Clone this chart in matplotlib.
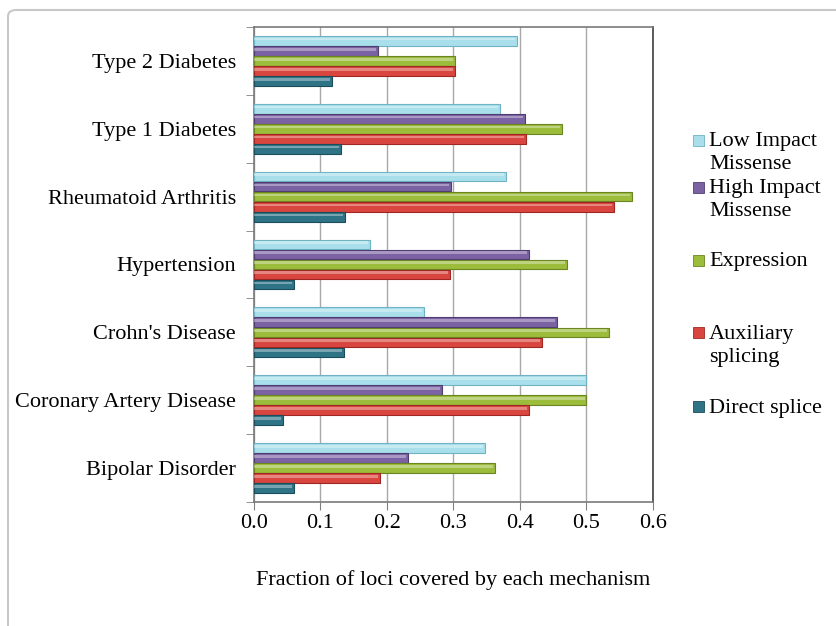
import matplotlib
matplotlib.use("Agg")
import matplotlib.pyplot as plt
import numpy as np
from matplotlib.patches import FancyBboxPatch, Rectangle

# diseases, bottom to top as they sit on the y axis
diseases = ["Bipolar Disorder", "Coronary Artery Disease", "Crohn's Disease",
            "Hypertension", "Rheumatoid Arthritis", "Type 1 Diabetes",
            "Type 2 Diabetes"]

# fraction of loci covered by each mechanism
low_impact = [0.347, 0.500, 0.255, 0.175, 0.379, 0.370, 0.396]
high_impact = [0.231, 0.282, 0.455, 0.413, 0.296, 0.407, 0.186]
expression = [0.362, 0.500, 0.534, 0.470, 0.569, 0.463, 0.303]
auxiliary = [0.189, 0.414, 0.433, 0.295, 0.541, 0.409, 0.303]
direct = [0.060, 0.044, 0.135, 0.060, 0.137, 0.131, 0.118]

series = [
    ("Low Impact\nMissense", low_impact, "#a9dfea", "#6fb3c4"),
    ("High Impact\nMissense", high_impact, "#7b62a3", "#4f3d72"),
    ("Expression", expression, "#9cbc3c", "#6a8522"),
    ("Auxiliary\nsplicing", auxiliary, "#d9463f", "#9e2723"),
    ("Direct splice", direct, "#2f7486", "#1b4d5b"),
]

plt.rcParams["font.family"] = ["Liberation Serif", "DejaVu Serif"]
fs = 16

fig = plt.figure(figsize=(8.37, 6.26), dpi=100)
ax = fig.add_axes([254 / 837, 1 - 502 / 626, 399 / 837, 475 / 626])

# rounded frame around the whole chart
frame = FancyBboxPatch((8 / 837, -0.05), 1.05, 1 - 10 / 626 + 0.05,
                       boxstyle="round,pad=0,rounding_size=0.01",
                       transform=fig.transFigure, fill=False,
                       edgecolor="#c8c8c8", linewidth=1.5, clip_on=False)
fig.patches.append(frame)

y = np.arange(len(diseases))
pitch = 0.148
h = 0.142
for i, (name, vals, col, edge) in enumerate(series):
    pos = y + (2 - i) * pitch
    ax.barh(pos, vals, height=h, color=col, edgecolor=edge, linewidth=0.8,
            zorder=3)
    # glossy highlight along the top of each bar
    ax.barh(pos + h * 0.18, np.array(vals) - 0.003, height=h * 0.28,
            color="white", alpha=0.35, linewidth=0, zorder=4)

ax.set_xlim(0, 0.6)
ax.set_ylim(-0.5, 6.5)
ax.set_xticks(np.arange(0, 0.61, 0.1))
ax.set_xticklabels([f"{v:.1f}" for v in np.arange(0, 0.61, 0.1)], fontsize=fs)
ax.set_yticks(y)
ax.set_yticklabels(diseases, fontsize=fs)
ax.set_yticks(np.arange(-0.5, 7, 1), minor=True)
ax.tick_params(axis="y", which="major", length=0, pad=13)
ax.tick_params(axis="y", which="minor", length=6, color="#808080")
ax.tick_params(axis="x", length=6, color="#808080", pad=3)
ax.grid(axis="x", color="#a8a8a8", linewidth=1, zorder=0)
for s in ax.spines.values():
    s.set_color("#7a7a7a")
    s.set_linewidth(1.2)
ax.spines["right"].set_color("#404040")
ax.set_xlabel("Fraction of loci covered by each mechanism", fontsize=fs,
              labelpad=26)

# legend on the right
legend_y = [140, 187, 260, 333, 407]
for (name, vals, col, edge), ly in zip(series, legend_y):
    yf = 1 - ly / 626
    fig.patches.append(Rectangle((693 / 837, yf - 5.5 / 626), 11 / 837,
                                 11 / 626, transform=fig.transFigure,
                                 facecolor=col, edgecolor=edge,
                                 linewidth=0.6))
    fig.text(709 / 837, yf + 8 / 626, name, fontsize=fs, va="top",
             ha="left", linespacing=1.3)

fig.savefig("out.png", dpi=100)
